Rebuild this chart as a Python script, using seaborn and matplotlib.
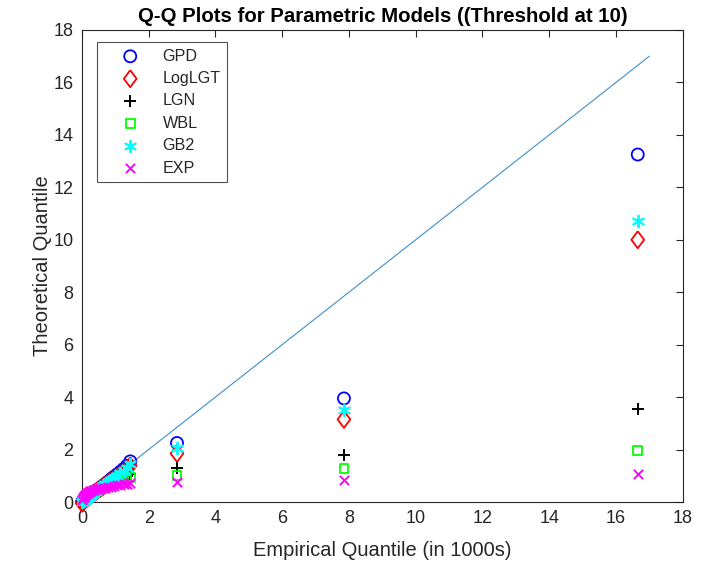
import matplotlib
matplotlib.use("Agg")
import matplotlib.pyplot as plt
import seaborn as sns
import pandas as pd

sns.set_theme(style="white")
plt.rcParams["font.family"] = ["Liberation Sans", "DejaVu Sans"]

# Empirical quantiles (in 1000s) and fitted-model quantiles
empirical = [0.01, 0.03, 0.05, 0.07, 0.09, 0.11, 0.14, 0.17, 0.20, 0.24,
             0.28, 0.32, 0.37, 0.42, 0.48, 0.55, 0.62, 0.70, 0.78, 0.86,
             0.95, 1.05, 1.15, 1.25, 1.35, 1.45, 2.85, 7.85, 16.65]
gpd = [0.00, 0.02, 0.04, 0.06, 0.08, 0.10, 0.13, 0.16, 0.19, 0.23,
       0.27, 0.31, 0.36, 0.41, 0.47, 0.54, 0.61, 0.69, 0.77, 0.86,
       0.95, 1.05, 1.15, 1.26, 1.38, 1.55, 2.25, 3.95, 13.25]
loglgt = [-0.05, 0.00, 0.03, 0.05, 0.07, 0.10, 0.13, 0.16, 0.19, 0.23,
          0.27, 0.31, 0.35, 0.40, 0.45, 0.51, 0.57, 0.64, 0.71, 0.79,
          0.87, 0.96, 1.05, 1.14, 1.24, 1.38, 1.85, 3.15, 10.0]
lgn = [0.02, 0.04, 0.06, 0.08, 0.10, 0.12, 0.15, 0.18, 0.21, 0.24,
       0.28, 0.31, 0.35, 0.39, 0.44, 0.49, 0.54, 0.60, 0.65, 0.70,
       0.76, 0.82, 0.88, 0.93, 0.98, 1.05, 1.30, 1.80, 3.55]
wbl = [0.04, 0.07, 0.10, 0.12, 0.14, 0.16, 0.19, 0.22, 0.25, 0.28,
       0.31, 0.34, 0.38, 0.41, 0.45, 0.50, 0.54, 0.59, 0.63, 0.68,
       0.72, 0.77, 0.81, 0.85, 0.88, 0.92, 1.00, 1.28, 1.95]
gb2 = [0.01, 0.03, 0.05, 0.07, 0.09, 0.11, 0.14, 0.17, 0.20, 0.24,
       0.28, 0.32, 0.37, 0.42, 0.48, 0.54, 0.61, 0.68, 0.76, 0.84,
       0.92, 1.01, 1.10, 1.20, 1.30, 1.45, 2.05, 3.50, 10.7]
expo = [0.08, 0.14, 0.19, 0.23, 0.27, 0.30, 0.33, 0.36, 0.39, 0.41,
        0.43, 0.45, 0.47, 0.49, 0.51, 0.52, 0.54, 0.55, 0.57, 0.59,
        0.61, 0.63, 0.65, 0.67, 0.69, 0.72, 0.75, 0.85, 1.05]
ref_line = [0, 17]

# Diamond a little narrower than it is tall
diamond = [(0, 1), (0.75, 0), (0, -1), (-0.75, 0), (0, 1)]

series = [
    ("GPD", gpd, "o", "#0000ff", True, 75),
    ("LogLGT", loglgt, diamond, "#ff0000", True, 150),
    ("LGN", lgn, "+", "#000000", False, 70),
    ("WBL", wbl, "s", "#00ff00", True, 40),
    ("GB2", gb2, (6, 2, 0), "#00ffff", False, 70),
    ("EXP", expo, "x", "#ff00ff", False, 45),
]

fig = plt.figure(figsize=(7.18, 5.65), dpi=100)
ax = fig.add_axes([0.114, 0.1115, 0.837, 0.8355])

for name, vals, mk, col, hollow, size in series:
    df = pd.DataFrame({"emp": empirical, "theo": vals})
    if hollow:
        sns.scatterplot(data=df, x="emp", y="theo", ax=ax, marker=mk, s=size,
                        facecolors="none", edgecolors=col, linewidths=1.3,
                        label=name, zorder=3, clip_on=False)
    else:
        sns.scatterplot(data=df, x="emp", y="theo", ax=ax, marker=mk, s=size,
                        color=col, linewidths=1.4, label=name, zorder=3,
                        clip_on=False)

sns.lineplot(x=ref_line, y=ref_line, ax=ax, color="#3d8fcc", linewidth=0.8,
             zorder=2)

ax.set_xlim(0, 18)
ax.set_ylim(0, 18)
ax.set_xticks(range(0, 19, 2))
ax.set_yticks(range(0, 19, 2))
ax.tick_params(direction="in", length=5, width=0.8, colors="#262626",
               labelsize=13, top=True, right=True, pad=6)
for sp in ax.spines.values():
    sp.set_color("#262626")
    sp.set_linewidth(0.8)

ax.set_xlabel("Empirical Quantile (in 1000s)", fontsize=14.5, color="#262626",
              labelpad=10)
ax.set_ylabel("Theoretical Quantile", fontsize=14.5, color="#262626",
              labelpad=1)
ax.set_title("Q-Q Plots for Parametric Models ((Threshold at 10)",
             fontsize=14.7, fontweight="bold", color="black", pad=6)

leg = ax.legend(loc="upper left", bbox_to_anchor=(0.025, 0.975), fontsize=11.6,
                frameon=True, fancybox=False, edgecolor="#262626",
                borderpad=0.42, labelspacing=0.46, handlelength=3.3,
                handletextpad=0.35, borderaxespad=0.0)
leg.get_frame().set_linewidth(0.8)

fig.savefig("out.png", dpi=100)
